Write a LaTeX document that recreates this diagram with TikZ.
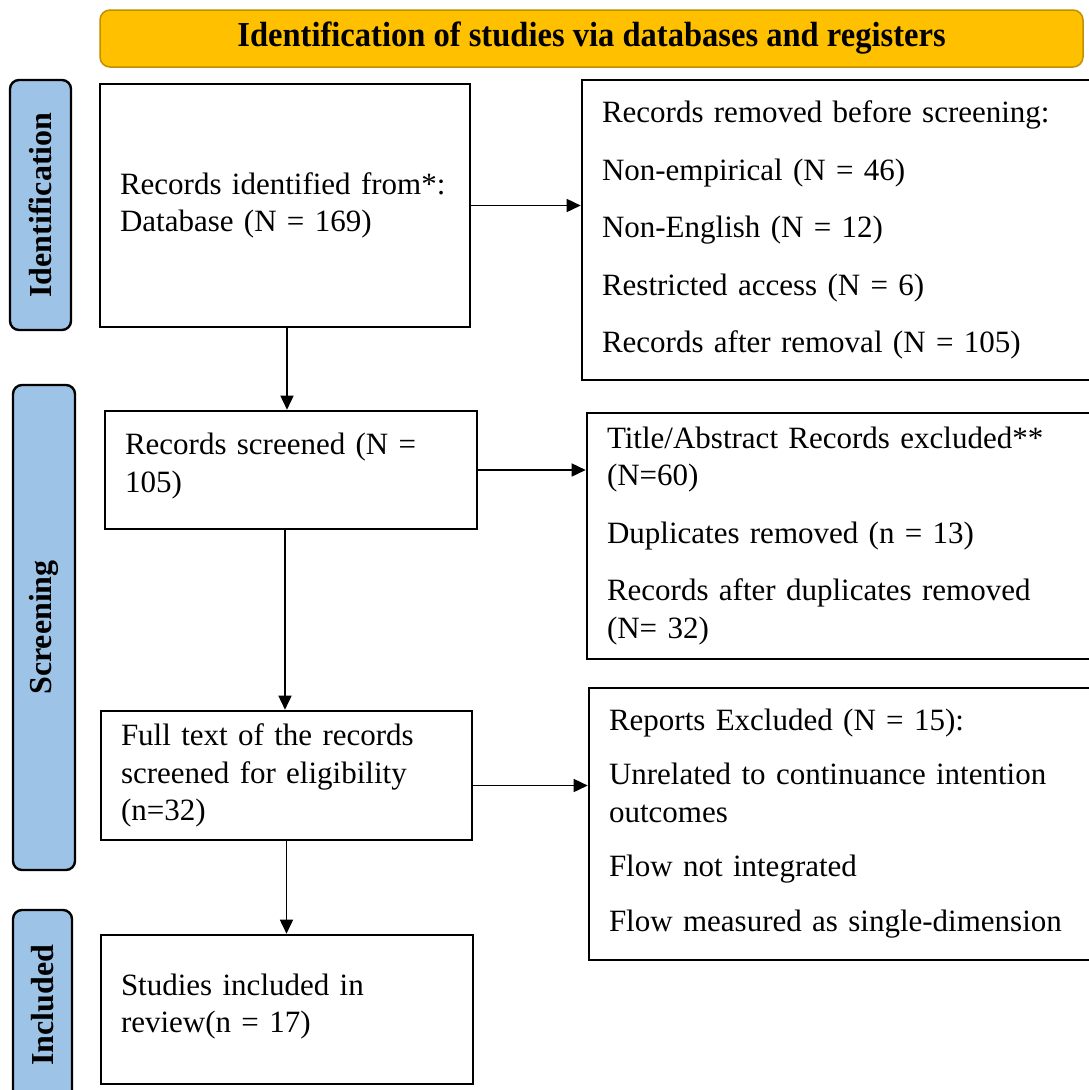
\documentclass[tikz,border=0pt]{standalone}
\usepackage{fontspec}
\setmainfont{Liberation Serif}
\newfontfamily\headfont[FakeStretch=0.93]{Liberation Serif}
\usetikzlibrary{arrows.meta}
\definecolor{headfill}{RGB}{255,192,0}
\definecolor{headdraw}{RGB}{191,144,0}
\definecolor{stagefill}{RGB}{157,195,230}
\tikzstyle{box}=[draw=black,line width=2.6pt,rectangle,align=left,inner xsep=20pt,inner ysep=0pt,font=\fontsize{31}{37.5}\selectfont]
\tikzstyle{stage}=[draw=black,line width=2.4pt,rounded corners=9pt,fill=stagefill,rotate=90,inner sep=0pt,font=\fontsize{32}{36}\selectfont\bfseries]
\tikzstyle{flow}=[line width=1.6pt,-{Triangle[length=14pt,width=13pt]}]

\begin{document}
\begin{tikzpicture}[x=1pt,y=-1pt]
\useasboundingbox (0,0) rectangle (1089,1090);
\node[draw=headdraw,fill=headfill,line width=1.5pt,rounded corners=10pt,minimum width=983pt,minimum height=57pt,font=\headfont\bfseries\fontsize{35}{40}\selectfont] (head) at (591.5,38.5) {Identification of studies via databases and registers};

\node[stage,minimum width=250pt,minimum height=61pt] (identlab) at (40.5,205) {Identification};
\node[stage,minimum width=485pt,minimum height=62pt] (screenlab) at (44,627.5) {Screening};
\node[stage,minimum width=190pt,minimum height=59pt] (inclab) at (42.5,1005) {Included};

\node[box,minimum width=370pt,minimum height=243pt,text width=330pt] (ident) at (285,205.5) {Records identified from*:\\Database (N = 169)};
\node[box,minimum width=372pt,minimum height=118pt,text width=332pt] (screen) at (291,470) {Records screened (N =\\105)\\[-23pt]\mbox{}};
\node[box,minimum width=371pt,minimum height=129pt,text width=331pt] (full) at (286.5,775.5) {Full text of the records\\screened for eligibility\\(n=32)};
\node[box,minimum width=372pt,minimum height=149pt,text width=332pt] (incl) at (287,1009.5) {Studies included in\\review(n = 17)\\[-25pt]\mbox{}};

\node[box,minimum width=513pt,minimum height=300pt,text width=473pt] (removed) at (838.5,230) {Records removed before screening:\\[20pt]Non-empirical (N = 46)\\[20pt]Non-English (N = 12)\\[20pt]Restricted access (N = 6)\\[20pt]Records after removal (N = 105)};
\node[box,minimum width=508pt,minimum height=246pt,text width=468pt] (excluded) at (841,536) {Title/Abstract Records excluded**\\(N=60)\\[20pt]Duplicates removed (n = 13)\\[20pt]Records after duplicates removed\\(N= 32)};
\node[box,minimum width=506pt,minimum height=272pt,text width=466pt] (reports) at (842,824) {Reports Excluded (N = 15):\\[17pt]Unrelated to continuance intention\\outcomes\\[17pt]Flow not integrated\\[17pt]Flow measured as single-dimension\\[-29pt]\mbox{}};

\draw[flow] (ident.east) -- (ident.east -| removed.west);
\draw[flow] (screen.east) -- (screen.east -| excluded.west);
\draw[flow] ([yshift=-10pt]full.east) -- ([yshift=-10pt]full.east -| reports.west);
\draw[flow] ([xshift=2pt]ident.south) -- ([xshift=2pt]ident.south |- screen.north);
\draw[flow] ([xshift=-6pt]screen.south) -- ([xshift=-6pt]screen.south |- full.north);
\draw[flow] (full.south) -- (full.south |- incl.north);
\end{tikzpicture}
\end{document}
